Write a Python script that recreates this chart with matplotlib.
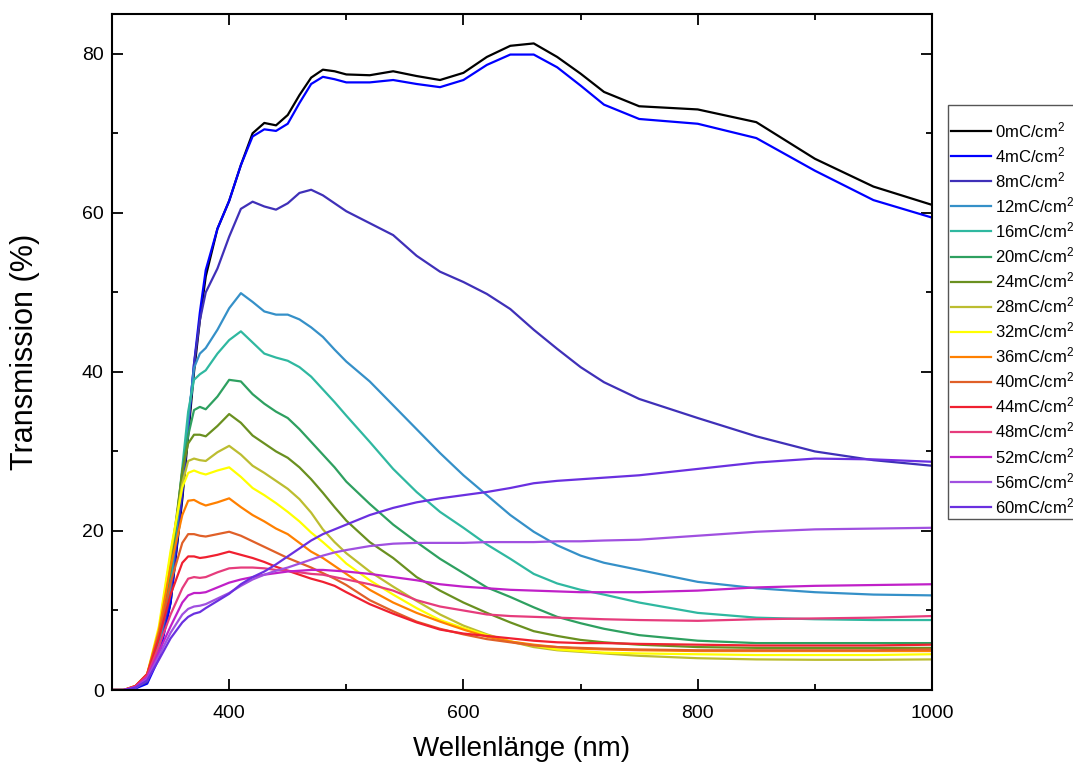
import numpy as np
import matplotlib
matplotlib.use("Agg")
import matplotlib.pyplot as plt
from matplotlib.ticker import MultipleLocator

plt.rcParams['font.family'] = ['Liberation Sans', 'DejaVu Sans']
plt.rcParams['mathtext.default'] = 'regular'

# wavelength grid (nm)
wl = [300, 310, 320, 330, 340, 350, 360, 365, 370, 375, 380, 390, 400, 410, 420, 430, 440, 450,
      460, 470, 480, 490, 500, 520, 540, 560, 580, 600, 620, 640, 660, 680, 700, 720, 750, 800,
      850, 900, 950, 1000]

# transmission (%) per charge density
t0 = [0, 0, 0.3, 1, 4.5, 11, 24, 32, 40, 46.5, 52, 58, 61.5, 66, 70, 71.3, 71.0, 72.3, 74.8, 77, 78,
      77.8, 77.4, 77.3, 77.8, 77.2, 76.7, 77.6, 79.6, 81.0, 81.3, 79.6, 77.5, 75.2, 73.4, 73.0, 71.4,
      66.8, 63.3, 61.0]
t4 = [0, 0, 0.2, 0.8, 4, 11, 24.5, 33, 41, 47.5, 52.8, 58, 61.5, 66, 69.6, 70.5, 70.3, 71.2, 73.8,
      76.2, 77.1, 76.8, 76.4, 76.4, 76.7, 76.2, 75.8, 76.7, 78.6, 79.9, 79.9, 78.3, 76.0, 73.6, 71.8,
      71.2, 69.4, 65.3, 61.6, 59.4]
t8 = [0, 0, 0.3, 1, 5, 12, 25, 33, 41, 46.5, 50, 53, 57, 60.5, 61.4, 60.8, 60.4, 61.2, 62.5, 62.9,
      62.2, 61.2, 60.2, 58.7, 57.2, 54.6, 52.6, 51.3, 49.8, 47.9, 45.3, 42.9, 40.6, 38.7, 36.6, 34.2,
      31.9, 30.0, 28.9, 28.2]
t12 = [0, 0, 0.3, 1.2, 5.5, 13, 27, 34, 40.5, 42.3, 43, 45.3, 48, 49.9, 48.8, 47.6, 47.2, 47.2, 46.6,
       45.6, 44.4, 42.8, 41.3, 38.8, 35.8, 32.8, 29.8, 27.0, 24.5, 22.0, 19.9, 18.2, 16.9, 16.0, 15.1,
       13.6, 12.8, 12.3, 12.0, 11.9]
t16 = [0, 0, 0.3, 1.3, 6, 14, 28, 35, 39, 39.7, 40.2, 42.3, 44, 45.1, 43.7, 42.3, 41.8, 41.4, 40.6,
       39.4, 37.8, 36.2, 34.5, 31.2, 27.8, 24.9, 22.4, 20.4, 18.3, 16.5, 14.6, 13.4, 12.6, 12.0, 11.0,
       9.7, 9.1, 8.9, 8.8, 8.8]
t20 = [0, 0, 0.4, 1.5, 6.5, 15, 27.5, 32, 35.2, 35.6, 35.3, 36.9, 39.0, 38.8, 37.2, 36.0, 35.0, 34.2,
       32.8, 31.2, 29.6, 28.0, 26.2, 23.4, 20.8, 18.6, 16.5, 14.7, 12.9, 11.7, 10.4, 9.2, 8.4, 7.7,
       6.9, 6.2, 5.9, 5.9, 5.9, 5.9]
t24 = [0, 0, 0.4, 1.6, 7, 16, 27.5, 31, 32.1, 32.1, 31.9, 33.2, 34.7, 33.6, 32.0, 31.0, 30.0, 29.2,
       28.0, 26.5, 24.8, 23.0, 21.3, 18.6, 16.6, 14.2, 12.5, 11.0, 9.7, 8.5, 7.4, 6.8, 6.3, 6.0, 5.7,
       5.4, 5.3, 5.3, 5.3, 5.3]
t28 = [0, 0, 0.5, 1.8, 7.5, 17, 26, 28.8, 29.1, 28.9, 28.8, 29.9, 30.7, 29.6, 28.2, 27.3, 26.3, 25.3,
       24.0, 22.3, 20.2, 18.6, 17.2, 14.9, 13.0, 11.2, 9.5, 8.1, 7.0, 6.1, 5.4, 5.0, 4.8, 4.6, 4.3,
       4.0, 3.85, 3.8, 3.8, 3.85]
t32 = [0, 0, 0.5, 2, 8, 17.5, 25.5, 27.3, 27.6, 27.3, 27.1, 27.6, 28.0, 26.8, 25.4, 24.5, 23.5, 22.4,
       21.2, 19.8, 18.6, 17.3, 15.9, 13.8, 12.0, 10.3, 8.8, 7.8, 6.9, 6.1, 5.6, 5.1, 4.9, 4.7, 4.6,
       4.5, 4.4, 4.4, 4.4, 4.5]
t36 = [0, 0, 0.5, 2, 7.5, 15.5, 22, 23.8, 23.9, 23.5, 23.2, 23.6, 24.1, 23.0, 22.0, 21.2, 20.3, 19.6,
       18.5, 17.4, 16.6, 15.6, 14.6, 12.6, 11.0, 9.7, 8.6, 7.6, 6.7, 6.1, 5.7, 5.4, 5.2, 5.1, 5.0,
       4.9, 4.9, 4.9, 4.9, 4.9]
t40 = [0, 0, 0.5, 2, 7, 13.5, 18.5, 19.6, 19.6, 19.4, 19.3, 19.6, 19.9, 19.4, 18.7, 18.0, 17.3, 16.6,
       16.0, 15.4, 14.7, 14.0, 13.2, 11.3, 9.9, 8.6, 7.7, 7.0, 6.4, 6.0, 5.6, 5.4, 5.3, 5.2, 5.1,
       5.0, 5.0, 5.0, 5.0, 5.1]
t44 = [0, 0, 0.5, 2, 6.5, 12, 16, 16.8, 16.8, 16.6, 16.7, 17.0, 17.4, 17.0, 16.6, 16.1, 15.5, 15.0,
       14.5, 14.0, 13.6, 13.1, 12.3, 10.8, 9.6, 8.5, 7.6, 7.1, 6.8, 6.5, 6.2, 6.0, 5.9, 5.9, 5.8,
       5.7, 5.6, 5.6, 5.6, 5.7]
t48 = [0, 0, 0.4, 1.8, 5.5, 9.5, 12.8, 14.0, 14.2, 14.1, 14.2, 14.8, 15.3, 15.4, 15.4, 15.3, 15.1,
       15.0, 14.8, 14.6, 14.5, 14.2, 13.9, 13.3, 12.5, 11.3, 10.5, 10.0, 9.5, 9.3, 9.2, 9.1, 9.0, 8.9,
       8.8, 8.7, 8.9, 9.0, 9.1, 9.3]
t52 = [0, 0, 0.4, 1.6, 4.8, 8, 11, 11.9, 12.2, 12.2, 12.3, 12.9, 13.5, 13.9, 14.2, 14.5, 14.7, 14.9,
       15.0, 15.1, 15.1, 15.0, 14.9, 14.6, 14.2, 13.8, 13.3, 13.0, 12.8, 12.6, 12.5, 12.4, 12.3, 12.3,
       12.3, 12.5, 12.9, 13.1, 13.2, 13.3]
t56 = [0, 0, 0.3, 1.4, 4.3, 7.2, 9.5, 10.2, 10.5, 10.6, 10.8, 11.5, 12.2, 13.1, 13.9, 14.5, 15.0,
       15.4, 15.9, 16.4, 16.9, 17.3, 17.6, 18.1, 18.4, 18.5, 18.5, 18.5, 18.6, 18.6, 18.6, 18.7, 18.7,
       18.8, 18.9, 19.4, 19.9, 20.2, 20.3, 20.4]
t60 = [0, 0, 0.3, 1.2, 3.8, 6.5, 8.5, 9.2, 9.6, 9.8, 10.3, 11.2, 12.1, 13.3, 14.2, 14.9, 15.8, 16.8,
       17.8, 18.8, 19.6, 20.2, 20.8, 22.0, 22.9, 23.6, 24.1, 24.5, 24.9, 25.4, 26.0, 26.3, 26.5, 26.7,
       27.0, 27.8, 28.6, 29.1, 29.0, 28.7]

charges = [0, 4, 8, 12, 16, 20, 24, 28, 32, 36, 40, 44, 48, 52, 56, 60]
series = [t0, t4, t8, t12, t16, t20, t24, t28, t32, t36, t40, t44, t48, t52, t56, t60]
colors = ['#000000', '#0000ff', '#3f30b8', '#3590c8', '#2fb8a0', '#2ea060', '#6a9020', '#bcbd30',
          '#ffff00', '#ff8000', '#e06028', '#f02030', '#e63c7c', '#c020c8', '#a050e0', '#6a30e0']

fig = plt.figure(figsize=(10.73, 7.69), dpi=100)
ax = fig.add_axes([0.1044, 0.1027, 0.7642, 0.8791])

for q, t, c in zip(charges, series, colors):
    ax.plot(wl, t, color=c, linewidth=1.6, label=f'{q}mC/cm$^2$')

ax.set_xlim(300, 1000)
ax.set_ylim(0, 85)
ax.xaxis.set_major_locator(MultipleLocator(200))
ax.xaxis.set_minor_locator(MultipleLocator(100))
ax.yaxis.set_major_locator(MultipleLocator(20))
ax.yaxis.set_minor_locator(MultipleLocator(10))
ax.tick_params(which='both', direction='in', top=True, right=True, width=1.3, labelsize=14)
ax.tick_params(which='major', length=8)
ax.tick_params(which='minor', length=4)
ax.tick_params(axis='x', pad=11)
ax.tick_params(axis='y', pad=6)
for s in ax.spines.values():
    s.set_linewidth(1.5)

ax.set_xlabel('Wellenlänge (nm)', fontsize=20, labelpad=10)
ax.set_ylabel('Transmission (%)', fontsize=22, labelpad=30)

leg = ax.legend(loc='upper left', bbox_to_anchor=(948 / 1073, 1 - 105 / 769),
                bbox_transform=fig.transFigure, borderaxespad=0, fontsize=12,
                handlelength=2.4, handletextpad=0.25, labelspacing=0.31,
                title=' ', title_fontsize=6,
                fancybox=False, edgecolor='#555555', framealpha=1, borderpad=0.18)
leg.get_frame().set_linewidth(1.0)

fig.savefig('out.png', dpi=100)
